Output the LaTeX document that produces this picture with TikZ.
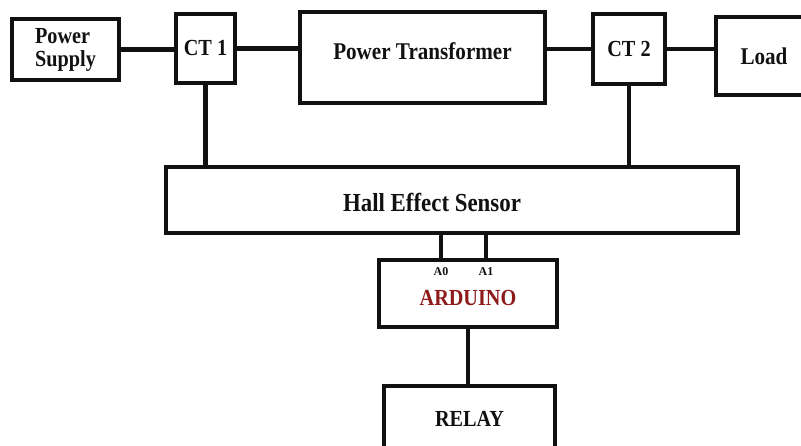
\documentclass[tikz,border=0pt]{standalone}
\usepackage{fontspec}
\setmainfont[FakeStretch=0.88]{Liberation Serif}
\newfontfamily\pinfont{Liberation Serif}
\usepackage{xcolor}
\usetikzlibrary{positioning,calc}
\definecolor{ArdRed}{HTML}{8E1B1B}
\definecolor{InkBlk}{HTML}{111111}

\begin{document}
\begin{tikzpicture}[x=1pt,y=-1pt,
    bx/.style={rectangle,draw=InkBlk,line width=4.2pt,inner sep=2pt,
               text=InkBlk,font=\fontsize{23}{23}\selectfont\bfseries},
    lbl/.style={text=InkBlk,font=\fontsize{24}{26}\selectfont\bfseries},
    pin/.style={text=InkBlk,inner sep=1pt,font=\pinfont\fontsize{12}{13}\selectfont\bfseries},
    ln/.style={line width=4.2pt,InkBlk}]
\useasboundingbox (0,0) rectangle (801,446);
% top row
\node[bx,minimum width=107pt,minimum height=61pt,align=left] (ps) at (65.5,49.5) {Power\\Supply};
\node[bx,minimum width=59pt,minimum height=69pt]  (ct1) at (205.5,48.5) {CT 1};
\node[bx,minimum width=245pt,minimum height=91pt,
      label={[lbl,yshift=6pt]center:Power Transformer}] (pt) at (422.5,57.5) {};
\node[bx,minimum width=72pt,minimum height=70pt]  (ct2) at (629,49) {CT 2};
\node[bx,minimum width=96pt,minimum height=78pt,
      font=\fontsize{24}{26}\selectfont\bfseries]  (load) at (764,56) {Load};
% sensor, controller, relay
\node[bx,minimum width=572pt,minimum height=66pt,
      label={[lbl,font=\fontsize{26}{28}\selectfont\bfseries,xshift=-20pt,yshift=-2pt]center:Hall Effect Sensor}] (hes) at (452,200) {};
\node[bx,minimum width=178pt,minimum height=67pt,
      label={[lbl,text=ArdRed,font=\fontsize{23}{25}\selectfont\bfseries,yshift=-4pt]center:ARDUINO}] (ard) at (468,293.5) {};
\node[pin] (a0) at (441,272) {A0};
\node[pin] (a1) at (486,272) {A1};
\node[bx,minimum width=171pt,minimum height=66pt] (relay) at (469.5,419) {RELAY};
% wiring
\draw[ln] (ps.east) -- (ps.east -| ct1.west);
\draw[ln] (ct1.east) -- (ct1.east -| pt.west);
\draw[ln] (ct2.west -| pt.east) -- (ct2.west);
\draw[ln] (ct2.east) -- (ct2.east -| load.west);
\draw[ln] (ct1.south) -- (ct1.south |- hes.north);
\draw[ln] (ct2.south) -- (ct2.south |- hes.north);
\draw[ln] (a0 |- hes.south) -- (a0 |- ard.north);
\draw[ln] (a1 |- hes.south) -- (a1 |- ard.north);
\draw[ln] (ard.south) -- (ard.south |- relay.north);
\end{tikzpicture}
\end{document}
